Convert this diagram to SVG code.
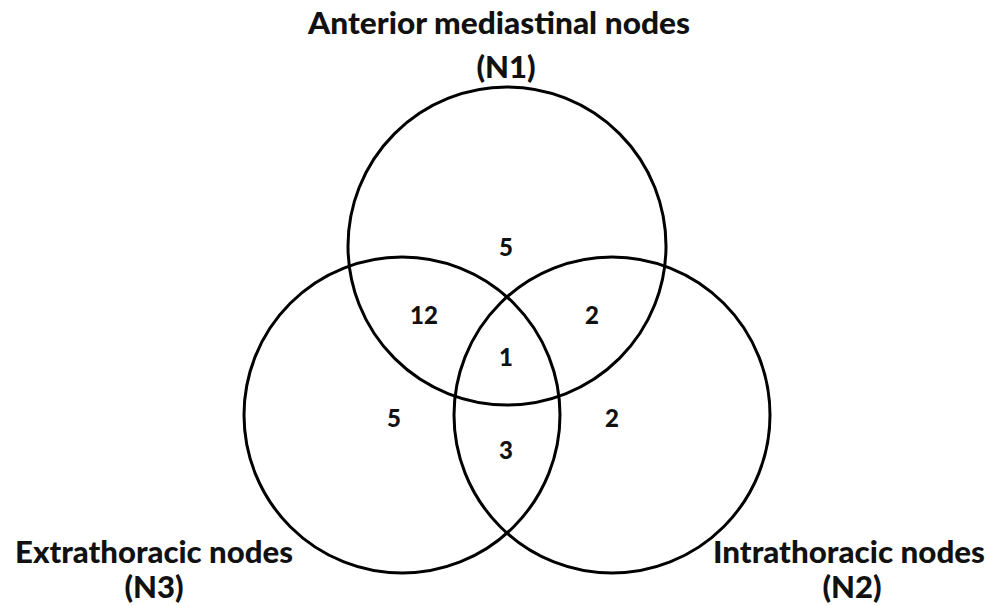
<svg xmlns="http://www.w3.org/2000/svg" width="998" height="606" viewBox="0 0 998 606">
<style>
.c{fill:none;stroke:#000;stroke-width:3}
.t{font-family:Lato,"Open Sans","Liberation Sans",sans-serif;font-weight:900;fill:#111;text-anchor:middle}
.l{font-size:31px}
.n{font-size:24px}
</style>
<rect width="998" height="606" fill="#fff"/>
<g id="n1"><circle class="c" cx="507" cy="246" r="159"/>
<text class="t l" x="499" y="34" textLength="382" lengthAdjust="spacingAndGlyphs">Anterior mediastinal nodes</text>
<text class="t l" x="506" y="78">(N1)</text></g>
<g id="n3"><circle class="c" cx="402" cy="415" r="158"/>
<text class="t l" x="154" y="563" textLength="278" lengthAdjust="spacingAndGlyphs">Extrathoracic nodes</text>
<text class="t l" x="154" y="598">(N3)</text></g>
<g id="n2"><circle class="c" cx="612" cy="415" r="158"/>
<text class="t l" x="849" y="563" textLength="272" lengthAdjust="spacingAndGlyphs">Intrathoracic nodes</text>
<text class="t l" x="852" y="598">(N2)</text></g>
<g id="counts">
<text class="t n" x="506" y="256">5</text>
<text class="t n" x="424" y="324">12</text>
<text class="t n" x="592" y="324">2</text>
<text class="t n" x="506" y="366">1</text>
<text class="t n" x="394" y="427">5</text>
<text class="t n" x="612" y="427">2</text>
<text class="t n" x="506" y="459">3</text>
</g>
<g id="connectors"></g>
</svg>
